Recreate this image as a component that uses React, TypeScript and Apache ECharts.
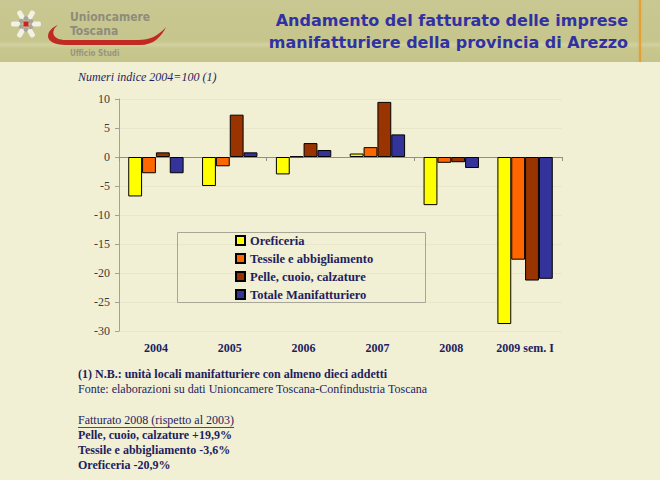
import React, { useEffect, useRef } from "react";
import * as echarts from "echarts";

const categories = ["2004", "2005", "2006", "2007", "2008", "2009 sem. I"];
const seriesNames = [
  "Oreficeria",
  "Tessile e abbigliamento",
  "Pelle, cuoio, calzature",
  "Totale Manifatturiero",
];
const oreficeria = [-6.8, -5.0, -3.0, 0.6, -8.3, -28.8];
const tessile = [-2.8, -1.6, 0.1, 1.7, -1.0, -17.7];
const pelle = [0.8, 7.3, 2.4, 9.5, -0.9, -21.3];
const totale = [-2.8, 0.8, 1.2, 3.9, -1.9, -21.0];
const seriesColors = ["#ffff00", "#ff6600", "#993300", "#333399"];

const titleLines = [
  "Andamento del fatturato delle imprese",
  "manifatturiere della provincia di Arezzo",
];
const subtitle = "Numeri indice 2004=100 (1)";
const noteLines = [
  "(1) N.B.: unità locali manifatturiere con almeno dieci addetti",
  "Fonte: elaborazioni su dati Unioncamere Toscana-Confindustria Toscana",
];
const fatturatoHeader = "Fatturato 2008 (rispetto al 2003)";
const fatturatoLines = [
  "Pelle, cuoio, calzature +19,9%",
  "Tessile e abbigliamento -3,6%",
  "Oreficeria -20,9%",
];

const swooshD =
  "M58,25 C45,30 42,45 66,45 L140,45 C154,45 161,37 166,27 C158,36 150,40 138,40 L66,40 C52,40 50,31 58,25 Z";
echarts.graphic.registerShape("swoosh", echarts.graphic.extendPath(swooshD, {}));

const SERIF = '"Liberation Serif", "Times New Roman", serif';
const NAVY = "#1e1e5e";

export default function App() {
  const ref = useRef<HTMLDivElement>(null);
  useEffect(() => {
    if (!ref.current) return;
    const chart = echarts.init(ref.current, null, { renderer: "svg" });
    const allData = [oreficeria, tessile, pelle, totale];

    const petals: any[] = [];
    for (let k = 0; k < 6; k++) {
      const a = (k * Math.PI) / 3 + Math.PI / 6;
      petals.push({
        type: "rect",
        rotation: a,
        shape: { x: -2.6, y: -15, width: 5.2, height: 9, r: 2 },
        style: { fill: "#f2f1e6" },
      });
      petals.push({
        type: "circle",
        rotation: a + Math.PI / 6,
        shape: { cx: 0, cy: -5.5, r: 2.4 },
        style: { fill: "#a8a4a0" },
      });
    }
    petals.push({
      type: "rect",
      shape: { x: -2.5, y: -2.5, width: 5, height: 5 },
      style: { fill: "#cc2222" },
    });

    const bottomTexts: any[] = [];
    bottomTexts.push({
      type: "text",
      x: 78,
      y: 374,
      style: { text: noteLines[0], font: `bold 12px ${SERIF}`, fill: NAVY, verticalAlign: "middle" },
    });
    bottomTexts.push({
      type: "text",
      x: 78,
      y: 389,
      style: { text: noteLines[1], font: `12px ${SERIF}`, fill: NAVY, verticalAlign: "middle" },
    });
    bottomTexts.push({
      type: "text",
      x: 78,
      y: 420,
      style: { text: fatturatoHeader, font: `12px ${SERIF}`, fill: NAVY, verticalAlign: "middle" },
    });
    bottomTexts.push({
      type: "line",
      shape: { x1: 78, y1: 427.5, x2: 234, y2: 427.5 },
      style: { stroke: NAVY, lineWidth: 0.8 },
    });
    fatturatoLines.forEach((t, i) => {
      bottomTexts.push({
        type: "text",
        x: 78,
        y: 435 + i * 15,
        style: { text: t, font: `bold 12px ${SERIF}`, fill: NAVY, verticalAlign: "middle" },
      });
    });

    chart.setOption({
      animation: false,
      backgroundColor: "#f1efd4",
      grid: { left: 119, top: 99, width: 443, height: 232, containLabel: false },
      legend: {
        orient: "vertical",
        left: 235,
        top: 234,
        itemWidth: 9,
        itemHeight: 9,
        itemGap: 5,
        icon: "rect",
        padding: 0,
        data: seriesNames,
        textStyle: {
          fontFamily: SERIF,
          fontWeight: "bold",
          fontSize: 12.5,
          color: NAVY,
          lineHeight: 13,
        },
      },
      xAxis: [
        {
          type: "category",
          data: categories,
          position: "bottom",
          axisLine: { onZero: true, lineStyle: { color: "#8f8f8f", width: 1 } },
          axisTick: { show: true, length: 4, lineStyle: { color: "#8f8f8f" } },
          axisLabel: { show: false },
          splitLine: { show: false },
        },
        {
          type: "category",
          data: categories,
          position: "bottom",
          axisLine: { show: false, onZero: false },
          axisTick: { show: false },
          axisLabel: {
            show: true,
            interval: 0,
            margin: 11,
            fontFamily: SERIF,
            fontWeight: "bold",
            fontSize: 12,
            color: NAVY,
          },
          splitLine: { show: false },
        },
      ],
      yAxis: {
        type: "value",
        min: -30,
        max: 10,
        interval: 5,
        axisLine: { show: true, lineStyle: { color: "#a0a0a0" } },
        axisTick: { show: true, length: 4, lineStyle: { color: "#a0a0a0" } },
        axisLabel: { margin: 9, fontFamily: SERIF, fontSize: 12, color: "#3c3c3c" },
        splitLine: { show: true, lineStyle: { color: "#e9e7ca", width: 1 } },
      },
      series: seriesNames.map((name, i) => ({
        name,
        type: "bar",
        xAxisIndex: 0,
        data: allData[i],
        barGap: "0%",
        barCategoryGap: "25%",
        itemStyle: { color: seriesColors[i], borderColor: "#000000", borderWidth: 1 },
      })),
      graphic: [
        {
          type: "rect",
          z: -10,
          shape: { x: 0, y: 0, width: 660, height: 62 },
          style: {
            fill: {
              type: "linear",
              x: 0,
              y: 0,
              x2: 0,
              y2: 1,
              colorStops: [
                { offset: 0, color: "#c9c892" },
                { offset: 0.66, color: "#c6c58c" },
                { offset: 0.72, color: "#d2d1a0" },
                { offset: 0.78, color: "#c8c78e" },
                { offset: 1, color: "#c4c38a" },
              ],
            },
          },
        },
        {
          type: "line",
          z: -5,
          shape: { x1: 640, y1: 0, x2: 640, y2: 62 },
          style: { stroke: "#e8b050", lineWidth: 5, opacity: 0.35 },
        },
        {
          type: "line",
          z: -4,
          shape: { x1: 640, y1: 0, x2: 640, y2: 62 },
          style: { stroke: "#e49a2a", lineWidth: 1.6 },
        },
        { type: "group", x: 26, y: 24, children: petals },
        {
          type: "swoosh",
          x: 0,
          y: 0,
          style: { fill: "#c02a22" },
        },
        {
          type: "text",
          x: 70,
          y: 17,
          style: {
            text: "Unioncamere",
            font: 'bold 12px "DejaVu Sans Condensed", sans-serif',
            fill: "#8e8c7c",
            verticalAlign: "middle",
          },
        },
        {
          type: "text",
          x: 70,
          y: 31,
          style: {
            text: "Toscana",
            font: 'bold 12px "DejaVu Sans Condensed", sans-serif',
            fill: "#8e8c7c",
            verticalAlign: "middle",
          },
        },
        {
          type: "text",
          x: 70,
          y: 53,
          style: {
            text: "Ufficio Studi",
            font: 'bold 8px "DejaVu Sans Condensed", sans-serif',
            fill: "#97957f",
            verticalAlign: "middle",
          },
        },
        {
          type: "text",
          x: 628,
          y: 9,
          style: {
            text: titleLines.join("\n"),
            font: 'bold 16px "DejaVu Sans", sans-serif',
            lineHeight: 22,
            fill: "#3131a3",
            align: "right",
            verticalAlign: "top",
          },
        },
        {
          type: "text",
          x: 78,
          y: 77,
          style: {
            text: subtitle,
            font: `italic 12px ${SERIF}`,
            fill: NAVY,
            verticalAlign: "middle",
          },
        },
        {
          type: "rect",
          z: 100,
          shape: { x: 177.5, y: 232.5, width: 248, height: 70 },
          style: { fill: "none", stroke: "#a8a696", lineWidth: 1 },
        },
        ...bottomTexts,
      ],
    });
    return () => chart.dispose();
  }, []);
  return (
    <div
      ref={ref}
      style={{ position: "fixed", left: 0, top: 0, width: 660, height: 480 }}
    />
  );
}
